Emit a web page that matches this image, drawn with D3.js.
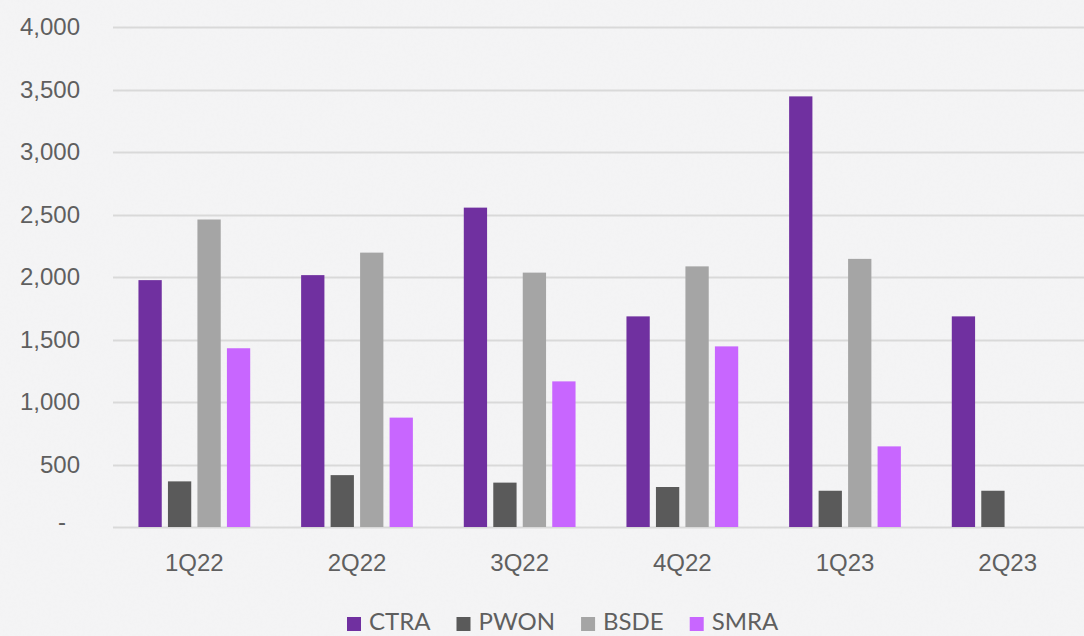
<!DOCTYPE html>
<html>
<head>
<meta charset="utf-8">
<script src="https://cdn.jsdelivr.net/npm/d3@7"></script>
<style>
  html, body { margin: 0; padding: 0; background: #f4f4f5; overflow: hidden; }
  svg { display: block; font-family: Lato, "Open Sans", sans-serif; }
  .axis text { fill: #5f5f5f; font-size: 24px; }
  .axis path, .axis line { display: none; }
  .grid line { stroke: #d9d9d9; stroke-width: 1.8; }
  .legend text { fill: #5f5f5f; font-size: 24px; }
</style>
</head>
<body>
<div id="chart"></div>
<script>
const WIDTH = 1084, HEIGHT = 636;
const PLOT_LEFT = 113, PLOT_RIGHT = 1089;
const PLOT_TOP = 27, PLOT_BOTTOM = 527;

// values
const quarters = ['1Q22', '2Q22', '3Q22', '4Q22', '1Q23', '2Q23'];
const seriesNames = ['CTRA', 'PWON', 'BSDE', 'SMRA'];
const ctra = [1975, 2015, 2555, 1685, 3445, 1685];
const pwon = [365, 415, 355, 320, 290, 290];
const bsde = [2460, 2195, 2035, 2085, 2145, null];
const smra = [1430, 875, 1165, 1445, 645, null];
const yTicks = [0, 500, 1000, 1500, 2000, 2500, 3000, 3500, 4000];

const colors = {CTRA: '#7030a0', PWON: '#5a5a5a', BSDE: '#a5a5a5', SMRA: '#c866ff'};
const seriesValues = {CTRA: ctra, PWON: pwon, BSDE: bsde, SMRA: smra};

const svg = d3.select('#chart').append('svg')
    .attr('width', WIDTH)
    .attr('height', HEIGHT);

// paper-ish background
const defs = svg.append('defs');
const paper = defs.append('filter').attr('id', 'paper')
    .attr('x', 0).attr('y', 0).attr('width', '100%').attr('height', '100%');
paper.append('feTurbulence')
    .attr('type', 'fractalNoise')
    .attr('baseFrequency', 0.35)
    .attr('numOctaves', 3)
    .attr('seed', 4);
paper.append('feColorMatrix')
    .attr('type', 'matrix')
    .attr('values', '0 0 0 0 0.85  0 0 0 0 0.85  0 0 0 0 0.86  0 0 0 -1.2 0.75');

svg.append('rect')
    .attr('width', WIDTH).attr('height', HEIGHT)
    .attr('fill', '#f4f4f5');
svg.append('rect')
    .attr('width', WIDTH).attr('height', HEIGHT)
    .attr('filter', 'url(#paper)')
    .attr('opacity', 0.35);

const x = d3.scaleBand()
    .domain(quarters)
    .range([PLOT_LEFT, PLOT_RIGHT])
    .paddingInner(0.313)
    .paddingOuter(0.1565);

const xInner = d3.scaleBand()
    .domain(seriesNames)
    .range([0, x.bandwidth()])
    .paddingInner(0.21)
    .paddingOuter(0);

const y = d3.scaleLinear()
    .domain([0, 4000])
    .range([PLOT_BOTTOM, PLOT_TOP]);

// gridlines
svg.append('g')
    .attr('class', 'grid')
    .selectAll('line')
    .data(yTicks)
    .enter().append('line')
        .attr('x1', PLOT_LEFT)
        .attr('x2', PLOT_RIGHT)
        .attr('y1', d => Math.round(y(d)) + 0.5)
        .attr('y2', d => Math.round(y(d)) + 0.5);

// bars
const groups = svg.selectAll('.quarter')
  .data(quarters)
  .enter().append('g')
    .attr('class', 'quarter')
    .attr('transform', d => `translate(${x(d)}, 0)`);

groups.each(function(q, i) {
    const g = d3.select(this);
    seriesNames.forEach(name => {
        const v = seriesValues[name][i];
        if (v == null) return;
        g.append('rect')
            .attr('x', xInner(name))
            .attr('y', y(v))
            .attr('width', xInner.bandwidth())
            .attr('height', y(0) - y(v))
            .attr('fill', colors[name]);
    });
});

// y axis
const yAxis = d3.axisLeft(y)
    .tickValues(yTicks)
    .tickSize(0)
    .tickPadding(33)
    .tickFormat(d => d === 0 ? '-' : d3.format(',')(d));

const yG = svg.append('g')
    .attr('class', 'axis')
    .attr('transform', `translate(${PLOT_LEFT}, 0)`)
    .call(yAxis);
yG.selectAll('.tick')
    .filter(d => d === 0)
    .select('text')
    .attr('dx', -14)
    .attr('dy', '0.1em');

// x axis
svg.append('g')
    .attr('class', 'axis')
    .attr('transform', `translate(0, ${PLOT_BOTTOM})`)
    .call(d3.axisBottom(x).tickSize(0).tickPadding(27));

// legend (kept just inside the bottom edge)
const legend = svg.append('g').attr('class', 'legend');
let lx = 0;
seriesNames.forEach(name => {
    legend.append('rect')
        .attr('x', lx)
        .attr('y', 617)
        .attr('width', 14)
        .attr('height', 14)
        .attr('fill', colors[name]);
    const t = legend.append('text')
        .attr('x', lx + 22)
        .attr('y', 630)
        .text(name);
    lx += 22 + t.node().getComputedTextLength() + 26;
});
const legendWidth = lx - 26;
legend.attr('transform', `translate(${Math.round(563 - legendWidth / 2)}, 0)`);
</script>
</body>
</html>
